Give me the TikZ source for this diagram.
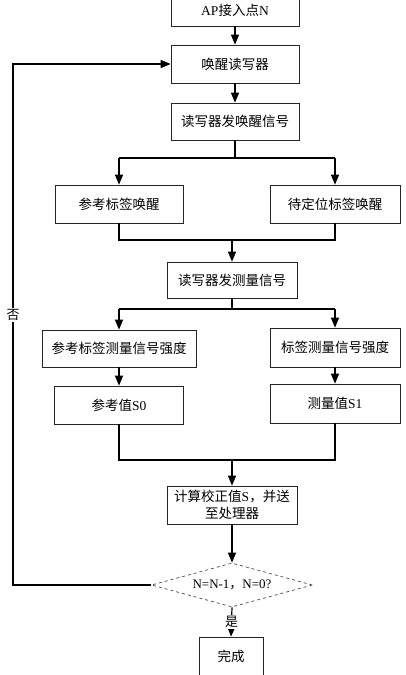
\documentclass[tikz,border=0pt]{standalone}
\usepackage{fontspec}
\setmainfont{Liberation Serif}
\newfontfamily\cjk{Noto Sans CJK SC}
\usetikzlibrary{arrows.meta,shapes.geometric}
\newcommand{\lat}[1]{{\rmfamily #1}}
\tikzset{
  x=1pt,y=-1pt,
  box/.style={draw=black!85,line width=0.7pt,rectangle,inner sep=0pt,font=\cjk\fontsize{13.5}{16.5}\selectfont,align=center},
  dia/.style={draw=black!70,dashed,line width=0.7pt,diamond,aspect=3.66,inner sep=0pt,minimum width=161pt,minimum height=44pt,font=\cjk\fontsize{13}{15}\selectfont},
  conn/.style={line width=1.2pt,black},
  arr/.style={conn,-{Triangle[length=10pt,width=8pt]}},
  lbl/.style={fill=white,inner sep=1pt,font=\cjk\fontsize{13}{15}\selectfont}
}
\begin{document}
\begin{tikzpicture}
\useasboundingbox (0,0) rectangle (405,675);
\clip (0,0) rectangle (405,675);
\fill[white] (0,0) rectangle (405,675);
% boxes
\node[box,minimum width=128pt,minimum height=32pt] (b1) at (235,10) {\lat{AP}接入点\lat{N}};
\node[box,minimum width=128pt,minimum height=38pt] (b2) at (235,64) {唤醒读写器};
\node[box,minimum width=128pt,minimum height=37pt] (b3) at (235,121.5) {读写器发唤醒信号};
\node[box,minimum width=128pt,minimum height=38pt] (b4) at (119,204) {参考标签唤醒};
\node[box,minimum width=130pt,minimum height=38pt] (b5) at (335,204) {待定位标签唤醒};
\node[box,minimum width=130pt,minimum height=36pt] (b6) at (232,280) {读写器发测量信号};
\node[box,minimum width=154pt,minimum height=37pt] (b7) at (119,348.5) {参考标签测量信号强度};
\node[box,minimum width=130pt,minimum height=39pt] (b8) at (335,347.5) {标签测量信号强度};
\node[box,minimum width=129pt,minimum height=38pt] (b9) at (119,405) {参考值\lat{S0}};
\node[box,minimum width=130pt,minimum height=39pt] (b10) at (335,403.5) {测量值\lat{S1}};
\node[box,minimum width=130pt,minimum height=38pt] (b11) at (232,505) {计算校正值\lat{S}，并送\\至处理器};
\node[dia] (d) at (232,585) {\lat{N=N-1}，\lat{N=0?}};
\node[box,minimum width=64pt,minimum height=38pt] (b12) at (231,656) {完成};
% junctions
\coordinate (j1) at (235,158);
\coordinate (j2) at (232,240);
\coordinate (j3) at (232,309);
\coordinate (j4) at (232,460);
\coordinate (lp) at (13,585);
\coordinate (lt) at (13,64);
% connectors
\draw[arr] (b1) -- (b2);
\draw[arr] (b2) -- (b3);
\draw[conn] (b3.south) -- (j1);
\draw[conn] (j1 -| b4) -- (j1 -| b5);
\draw[arr] (j1 -| b4) -- (b4.north);
\draw[arr] (j1 -| b5) -- (b5.north);
\draw[conn] (b4.south) -- (b4.south |- j2) -- (b5.south |- j2) -- (b5.south);
\draw[arr] (j2) -- (b6.north);
\draw[conn] (b6.south) -- (j3);
\draw[conn] (j3 -| b7) -- (j3 -| b8);
\draw[arr] (j3 -| b7) -- (b7.north);
\draw[arr] (j3 -| b8) -- (b8.north);
\draw[arr] (b7) -- (b9);
\draw[arr] (b8) -- (b10);
\draw[conn] (b9.south) -- (b9.south |- j4) -- (b10.south |- j4) -- (b10.south);
\draw[arr] (j4) -- (b11.north);
\draw[arr] (b11) -- (d);
\draw[arr] (d.south) -- node[lbl] (yes) {是} (b12.north);
\draw[arr] (d.west) -- (lp) -- (lt) -- (b2.west);
\node[lbl] (no) at (13,315) {否};
\end{tikzpicture}
\end{document}
